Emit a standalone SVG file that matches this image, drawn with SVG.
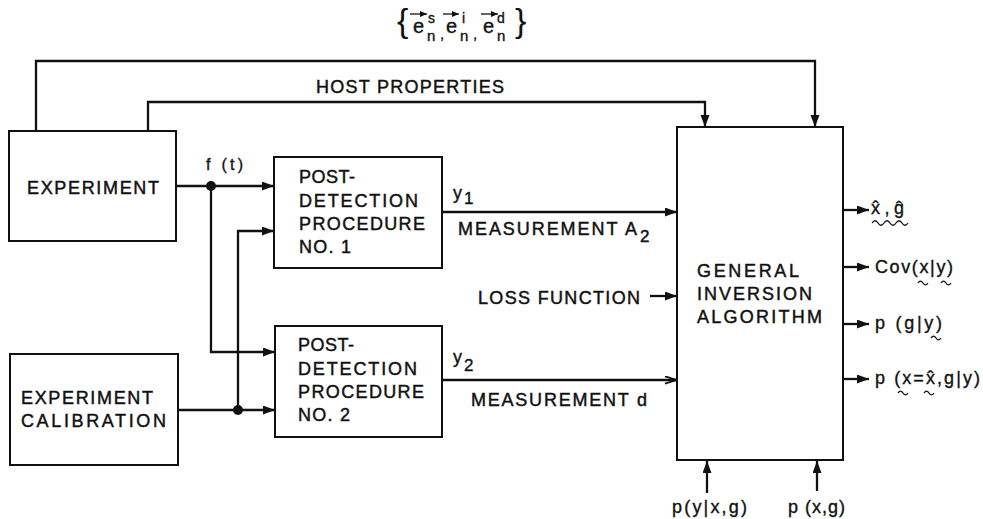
<svg xmlns="http://www.w3.org/2000/svg" xmlns:xlink="http://www.w3.org/1999/xlink" width="983" height="519" viewBox="0 0 983 519">
<style>
.box{fill:#fff;stroke:#111;stroke-width:2}
.ln{fill:none;stroke:#111;stroke-width:2.3}
.t{font-family:"Liberation Sans",Arial,sans-serif;font-size:18px;fill:#111;stroke:#111;stroke-width:0.45}
.m{font-family:"Liberation Sans",Arial,sans-serif;fill:#111;stroke:#111;stroke-width:0.35}
.w{fill:none;stroke:#111;stroke-width:1.3}
</style>
<defs>
<marker id="ah" markerUnits="userSpaceOnUse" markerWidth="13" markerHeight="10" refX="12" refY="4.5" orient="auto">
<path d="M0,0 L12,4.5 L0,9 z" fill="#111"/>
</marker>
<marker id="ao" markerUnits="userSpaceOnUse" markerWidth="14" markerHeight="10" refX="13" refY="4.5" orient="auto">
<path d="M1,0.8 L12.5,4.5 L1,8.2" fill="none" stroke="#111" stroke-width="1.8"/>
</marker>
<marker id="as" markerUnits="userSpaceOnUse" markerWidth="8" markerHeight="6" refX="7" refY="3" orient="auto">
<path d="M0,0 L7,3 L0,6 z" fill="#111"/>
</marker>
<path id="tl" d="M0,0 c1.7,-2.6 3.3,-2.6 5,0 s3.3,2.6 5,0" fill="none" stroke="#111" stroke-width="1.3"/>
</defs>

<g id="connectors">
<path class="ln" d="M36,131 V61 H815 V127" marker-end="url(#ah)"/>
<path class="ln" d="M148,131 V102 H705 V127" marker-end="url(#ah)"/>
<path class="ln" d="M176,186 H274" marker-end="url(#ah)"/>
<path class="ln" d="M211,186 V352 H275" marker-end="url(#ah)"/>
<path class="ln" d="M178,410 H275" marker-end="url(#ah)"/>
<path class="ln" d="M238,410 V231 H274" marker-end="url(#ah)"/>
<circle cx="211" cy="186" r="5" fill="#111"/>
<circle cx="238" cy="410" r="5" fill="#111"/>
<path class="ln" d="M442,212 H677" marker-end="url(#ah)"/>
<path class="ln" d="M650,296 H677" marker-end="url(#ah)"/>
<path class="ln" d="M442,380 H677" marker-end="url(#ao)"/>
<path class="ln" d="M843,210 H869" marker-end="url(#ah)"/>
<path class="ln" d="M843,267 H869" marker-end="url(#ah)"/>
<path class="ln" d="M843,324 H869" marker-end="url(#ah)"/>
<path class="ln" d="M843,379 H869" marker-end="url(#ah)"/>
<path class="ln" d="M707,493 V461" marker-end="url(#ah)"/>
<path class="ln" d="M817,491 V461" marker-end="url(#ah)"/>
</g>

<g id="experiment">
<rect class="box" x="9" y="131" width="167" height="110"/>
<text class="t" x="27" y="194" textLength="132" lengthAdjust="spacing">EXPERIMENT</text>
</g>

<g id="calibration">
<rect class="box" x="10" y="354" width="168" height="111"/>
<text class="t" x="21" y="404" textLength="132" lengthAdjust="spacing">EXPERIMENT</text>
<text class="t" x="21" y="427" textLength="145" lengthAdjust="spacing">CALIBRATION</text>
</g>

<g id="pdp1">
<rect class="box" x="274" y="157" width="168" height="111"/>
<text class="t" x="299" y="183" textLength="56" lengthAdjust="spacing">POST-</text>
<text class="t" x="299" y="207" textLength="119" lengthAdjust="spacing">DETECTION</text>
<text class="t" x="299" y="230" textLength="126" lengthAdjust="spacing">PROCEDURE</text>
<text class="t" x="299" y="253" textLength="52" lengthAdjust="spacing">NO. 1</text>
</g>

<g id="pdp2">
<rect class="box" x="275" y="326" width="167" height="111"/>
<text class="t" x="298" y="351" textLength="56" lengthAdjust="spacing">POST-</text>
<text class="t" x="298" y="375" textLength="119" lengthAdjust="spacing">DETECTION</text>
<text class="t" x="298" y="398" textLength="126" lengthAdjust="spacing">PROCEDURE</text>
<text class="t" x="298" y="421" textLength="52" lengthAdjust="spacing">NO. 2</text>
</g>

<g id="gia">
<rect class="box" x="677" y="127" width="166" height="333"/>
<text class="t" x="697" y="277" textLength="102" lengthAdjust="spacing">GENERAL</text>
<text class="t" x="697" y="300" textLength="115" lengthAdjust="spacing">INVERSION</text>
<text class="t" x="697" y="323" textLength="125" lengthAdjust="spacing">ALGORITHM</text>
</g>

<g id="labels">
<text class="t" x="316" y="93" textLength="188" lengthAdjust="spacing">HOST PROPERTIES</text>
<text class="m" x="206" y="170" style="font-size:16px" textLength="37" lengthAdjust="spacing">f (t)</text>
<text class="m" x="453" y="199" style="font-size:18px">y</text>
<text class="m" x="464" y="204" style="font-size:17px">1</text>
<text class="t" x="458" y="235" textLength="179" lengthAdjust="spacing">MEASUREMENT A</text>
<text class="t" x="640" y="242" style="font-size:17px">2</text>
<text class="t" x="478" y="304" textLength="162" lengthAdjust="spacing">LOSS FUNCTION</text>
<text class="m" x="453" y="363" style="font-size:18px">y</text>
<text class="m" x="464" y="371" style="font-size:17px">2</text>
<text class="t" x="471" y="406" textLength="176" lengthAdjust="spacing">MEASUREMENT d</text>

<text class="m" x="397" y="32" style="font-size:34px;stroke-width:0">{</text>
<text class="m" x="413" y="33" style="font-size:20px">e</text>
<text class="m" x="428" y="23" style="font-size:14px">s</text>
<text class="m" x="427" y="41" style="font-size:15px">n</text>
<text class="m" x="440" y="39" style="font-size:15px">,</text>
<text class="m" x="446" y="33" style="font-size:20px">e</text>
<text class="m" x="462" y="23" style="font-size:14px">i</text>
<text class="m" x="460" y="41" style="font-size:15px">n</text>
<text class="m" x="473" y="39" style="font-size:15px">,</text>
<text class="m" x="483" y="33" style="font-size:20px">e</text>
<text class="m" x="497" y="23" style="font-size:14px">d</text>
<text class="m" x="497" y="41" style="font-size:15px">n</text>
<text class="m" x="515" y="32" style="font-size:34px;stroke-width:0">}</text>
<path class="w" d="M410,14 H427" marker-end="url(#as)"/>
<path class="w" d="M443,14 H459" marker-end="url(#as)"/>
<path class="w" d="M481,14 H498" marker-end="url(#as)"/>

<text class="m" x="871" y="214" style="font-size:18px" textLength="33" lengthAdjust="spacing">x̂,ĝ</text>
<path class="w" d="M872,223 c2,-3 4,-3 6,0 s4,3 6,0 s4,-3 6,0 s4,3 6,0 s4,-3 6,0 s4,3 6,0"/>
<text class="m" x="875" y="273" style="font-size:18px" textLength="78" lengthAdjust="spacing">Cov(x|y)</text>
<use xlink:href="#tl" x="918" y="283"/>
<use xlink:href="#tl" x="941" y="283"/>
<text class="m" x="875" y="329" style="font-size:18px" textLength="67" lengthAdjust="spacing">p (g|y)</text>
<use xlink:href="#tl" x="931" y="338"/>
<text class="m" x="875" y="384" style="font-size:18px" textLength="105" lengthAdjust="spacing">p (x=x̂,g|y)</text>
<use xlink:href="#tl" x="898" y="393"/>
<use xlink:href="#tl" x="924" y="393"/>
<text class="m" x="672" y="513" style="font-size:18px" textLength="75" lengthAdjust="spacing">p(y|x,g)</text>
<text class="m" x="788" y="513" style="font-size:18px" textLength="57" lengthAdjust="spacing">p (x,g)</text>
</g>
</svg>
